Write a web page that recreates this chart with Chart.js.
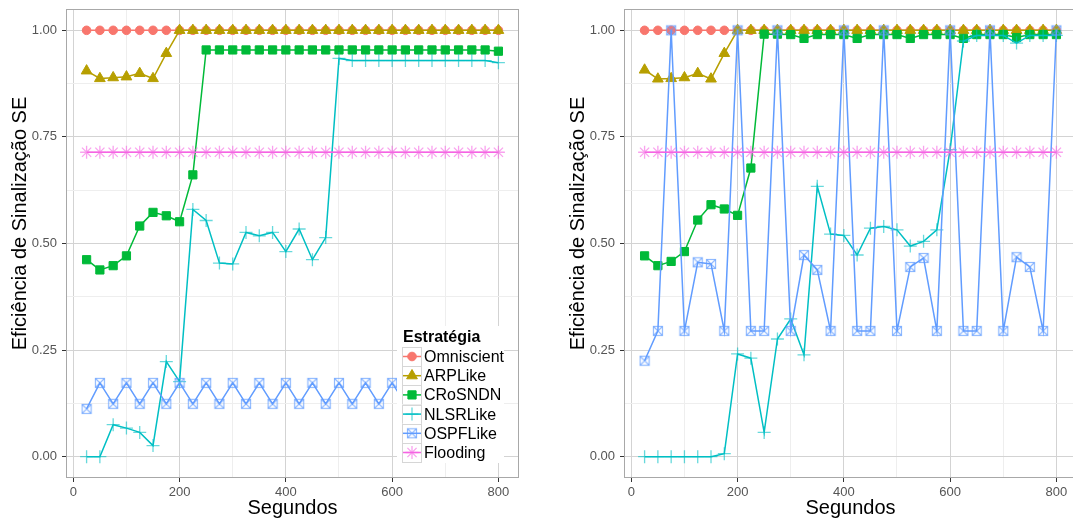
<!DOCTYPE html>
<html>
<head>
<meta charset="utf-8">
<script src="https://cdn.jsdelivr.net/npm/chart.js@4.4.0/dist/chart.umd.min.js"></script>
<style>
html, body { margin:0; padding:0; overflow:hidden; background:#fff; }
body { width:1073px; height:523px; position:relative; }
.panel { position:absolute; top:0; width:540px; height:523px; }
</style>
</head>
<body>
<div class="panel" style="left:0px"><canvas id="grafEsq" width="540" height="523"></canvas></div>
<div class="panel" style="left:558px"><canvas id="grafDir" width="540" height="523"></canvas></div>
<script>
//------------- datos -----------------//
const segundos = [25,50,75,100,125,150,175,200,225,250,275,300,325,350,375,400,
                  425,450,475,500,525,550,575,600,625,650,675,700,725,750,775,800];

const estrategias = ['Omniscient','ARPLike','CRoSNDN','NLSRLike','OSPFLike','Flooding'];

// panel izquierdo
const omniEsq  = [1,1,1,1,1,1,1,1,1,1,1,1,1,1,1,1,1,1,1,1,1,1,1,1,1,1,1,1,1,1,1,1];
const arpEsq   = [0.905,0.887,0.889,0.891,0.899,0.887,0.946,1,1,1,1,1,1,1,1,1,
                  1,1,1,1,1,1,1,1,1,1,1,1,1,1,1,1];
const crosEsq  = [0.462,0.438,0.448,0.471,0.541,0.573,0.565,0.551,0.661,0.954,0.954,0.954,0.954,0.954,0.954,0.954,
                  0.954,0.954,0.954,0.954,0.954,0.954,0.954,0.954,0.954,0.954,0.954,0.954,0.954,0.954,0.954,0.951];
const nlsrEsq  = [0,0,0.075,0.067,0.057,0.026,0.223,0.176,0.580,0.554,0.454,0.452,0.526,0.518,0.526,0.481,
                  0.534,0.462,0.514,0.934,0.929,0.929,0.929,0.929,0.929,0.929,0.929,0.929,0.929,0.929,0.929,0.924];
const ospfEsq  = [0.112,0.173,0.124,0.173,0.124,0.173,0.124,0.173,0.124,0.173,0.124,0.173,0.124,0.173,0.124,0.173,
                  0.124,0.173,0.124,0.173,0.124,0.173,0.124,0.173,0.124,0.173,0.124,0.173,0.124,0.173,0.124,0.173];
const floodEsq = [0.714,0.714,0.714,0.714,0.714,0.714,0.714,0.714,0.714,0.714,0.714,0.714,0.714,0.714,0.714,0.714,
                  0.714,0.714,0.714,0.714,0.714,0.714,0.714,0.714,0.714,0.714,0.714,0.714,0.714,0.714,0.714,0.714];

// panel derecho
const omniDir  = [1,1,1,1,1,1,1,1,1,1,1,1,1,1,1,1,1,1,1,1,1,1,1,1,1,1,1,1,1,1,1,1];
const arpDir   = [0.907,0.886,0.887,0.889,0.899,0.886,0.946,1,1,1,1,1,1,1,1,1,
                  1,1,1,1,1,1,1,1,1,1,1,1,1,1,1,1];
const crosDir  = [0.471,0.448,0.458,0.481,0.555,0.591,0.581,0.566,0.677,0.991,0.991,0.990,0.981,0.990,0.990,0.990,
                  0.981,0.990,0.990,0.990,0.981,0.990,0.990,0.990,0.981,0.990,0.990,0.990,0.983,0.990,0.990,0.990];
const nlsrDir  = [0,0,0,0,0,0,0.007,0.241,0.231,0.057,0.276,0.323,0.239,0.634,0.522,0.519,
                  0.473,0.536,0.540,0.532,0.494,0.505,0.532,0.720,0.975,0.988,0.988,0.988,0.970,0.988,0.988,0.988];
const ospfDir  = [0.225,0.295,1,0.295,0.456,0.452,0.295,1,0.295,0.295,1,0.295,0.473,0.438,0.295,1,
                  0.295,0.295,1,0.295,0.445,0.466,0.295,1,0.295,0.295,1,0.295,0.468,0.445,0.295,1];
const floodDir = [0.714,0.714,0.714,0.714,0.714,0.714,0.714,0.714,0.714,0.714,0.714,0.714,0.714,0.714,0.714,0.714,
                  0.714,0.714,0.714,0.714,0.714,0.714,0.714,0.714,0.714,0.714,0.714,0.714,0.714,0.714,0.714,0.714];

// ejes
const ticksX      = [0,100,200,300,400,500,600,700,800];
const ticksXMayor = [0,200,400,600,800];
const ticksY      = [0,0.125,0.25,0.375,0.5,0.625,0.75,0.875,1];
const ticksYMayor = [0,0.25,0.5,0.75,1];
const tituloX = 'Segundos';
const tituloY = 'Eficiência de Sinalização SE';
const tituloLeyenda = 'Estratégia';
//-------------------------------------//

const fuente = '"Liberation Sans", Arial, Helvetica, sans-serif';
const colores = ['#F8766D','#B79F00','#00BA38','#00BFC4','#619CFF','#F564E3'];

// cuadrado con X (shape 7 de ggplot)
function cajaX(color){
	var c = document.createElement('canvas');
	c.width = 12; c.height = 12;
	var g = c.getContext('2d');
	g.strokeStyle = color;
	g.lineWidth = 1.2;
	g.strokeRect(1.5,1.5,9,9);
	g.beginPath();
	g.moveTo(1.5,1.5); g.lineTo(10.5,10.5);
	g.moveTo(10.5,1.5); g.lineTo(1.5,10.5);
	g.stroke();
	return c;
}

const marcadores = [
	{estilo:'circle',   radio:4.3, borde:1,   punto:colores[0]},
	{estilo:'triangle', radio:6.2, borde:1,   punto:colores[1]},
	{estilo:'rect',     radio:5.8, borde:1,   punto:colores[2]},
	{estilo:'cross',    radio:6.5, borde:1.3, punto:'rgba(0,191,196,0.6)'},
	{estilo:cajaX('rgba(97,156,255,0.7)'), radio:5, borde:1, punto:'rgba(97,156,255,0.7)'},
	{estilo:'star',     radio:6.5, borde:1.3, punto:'rgba(245,100,227,0.6)'}
];

function serie(i, valores){
	var puntos = [];
	for (var k = 0; k < segundos.length; k++) {
		puntos.push({x: segundos[k], y: valores[k]});
	}
	var m = marcadores[i];
	return {
		label: estrategias[i],
		data: puntos,
		borderColor: colores[i],
		backgroundColor: colores[i],
		borderWidth: 1.5,
		pointStyle: m.estilo,
		pointRadius: m.radio,
		pointBorderWidth: m.borde,
		pointBorderColor: m.punto,
		pointBackgroundColor: m.punto,
		tension: 0,
		spanGaps: true,
		order: estrategias.length - 1 - i
	};
}

const decoracion = {
	id: 'decoracion',
	afterDraw(chart, args, op) {
		const g = chart.ctx;
		const a = chart.chartArea;
		g.save();
		// borde del panel
		g.strokeStyle = '#a8a8a8';
		g.lineWidth = 1;
		g.strokeRect(Math.round(a.left)+0.5, Math.round(a.top)+0.5, Math.round(a.right-a.left)-1, Math.round(a.bottom-a.top)-1);
		// titulo eje y
		g.translate(20, 223.5);
		g.rotate(-Math.PI/2);
		g.fillStyle = '#000';
		g.font = '20px ' + fuente;
		g.textAlign = 'center';
		g.textBaseline = 'middle';
		g.fillText(tituloY, 0, 0);
		g.restore();

		if (op.leyenda) dibujaLeyenda(g);
	}
};

function dibujaLeyenda(g){
	g.save();
	g.fillStyle = '#fff';
	g.fillRect(397, 326, 107, 137);
	g.fillStyle = '#000';
	g.font = 'bold 16px ' + fuente;
	g.textAlign = 'left';
	g.textBaseline = 'alphabetic';
	g.fillText(tituloLeyenda, 403, 341.5);
	for (var i = 0; i < estrategias.length; i++) {
		var cy = 356.5 + i*19.2;
		g.fillStyle = '#fff';
		g.strokeStyle = '#d6d6d6';
		g.lineWidth = 1;
		g.fillRect(402, cy-9.6, 19.5, 19.2);
		g.strokeRect(402.5, Math.round(cy-9.6)+0.5, 19, 19);
		g.strokeStyle = colores[i];
		g.lineWidth = 1.5;
		g.beginPath();
		g.moveTo(403, cy); g.lineTo(421, cy);
		g.stroke();
		var m = marcadores[i];
		g.fillStyle = m.punto;
		g.strokeStyle = m.punto;
		g.lineWidth = m.borde;
		Chart.helpers.drawPoint(g, {pointStyle: m.estilo, radius: m.radio, rotation: 0, borderWidth: m.borde}, 412, cy);
		g.fillStyle = '#000';
		g.font = '16px ' + fuente;
		g.textBaseline = 'middle';
		g.fillText(estrategias[i], 424, cy + 1);
	}
	g.restore();
}

function creargraf(nombre, series, conLeyenda){
	const ctx = document.getElementById(nombre).getContext('2d');
	var datasets = [];
	for (var i = 0; i < series.length; i++) {
		datasets.push(serie(i, series[i]));
	}
	return new Chart(ctx, {
		type: 'line',
		data: { datasets: datasets },
		plugins: [decoracion],
		options: {
			responsive: false,
			animation: false,
			events: [],
			layout: { padding: { top: 9, right: 21, left: 0, bottom: 0 } },
			plugins: {
				legend: { display: false },
				tooltip: { enabled: false },
				decoracion: { leyenda: conLeyenda }
			},
			scales: {
				x: {
					type: 'linear',
					min: -13.75,
					max: 838.75,
					afterBuildTicks: function(eje){ eje.ticks = ticksX.map(v => ({value: v})); },
					afterFit: function(eje){
						eje.height = 45;
						eje.paddingLeft = 0; eje.paddingRight = 0;
					},
					border: { display: false },
					grid: {
						lineWidth: 1,
						color: c => ticksXMayor.includes(c.tick.value) ? '#d3d3d3' : '#eeeeee',
						drawTicks: true,
						tickLength: 4,
						tickColor: c => ticksXMayor.includes(c.tick.value) ? '#333333' : 'rgba(0,0,0,0)'
					},
					ticks: {
						autoSkip: false,
						maxRotation: 0,
						padding: 3,
						color: '#555555',
						font: { family: fuente, size: 13 },
						callback: v => ticksXMayor.includes(v) ? String(v) : ''
					},
					title: {
						display: true,
						text: tituloX,
						color: '#000',
						font: { family: fuente, size: 20 },
						padding: { top: 0, bottom: 3 }
					}
				},
				y: {
					min: -0.05,
					max: 1.05,
					afterBuildTicks: function(eje){ eje.ticks = ticksY.map(v => ({value: v})); },
					afterFit: function(eje){
						eje.width = 66;
						eje.paddingTop = 0; eje.paddingBottom = 0;
					},
					border: { display: false },
					grid: {
						lineWidth: 1,
						color: c => ticksYMayor.includes(c.tick.value) ? '#d3d3d3' : '#eeeeee',
						drawTicks: true,
						tickLength: 4,
						tickColor: c => ticksYMayor.includes(c.tick.value) ? '#333333' : 'rgba(0,0,0,0)'
					},
					ticks: {
						autoSkip: false,
						padding: 5,
						color: '#555555',
						font: { family: fuente, size: 13 },
						callback: v => ticksYMayor.includes(v) ? v.toFixed(2) : ''
					}
				}
			}
		}
	});
}

creargraf('grafEsq', [omniEsq, arpEsq, crosEsq, nlsrEsq, ospfEsq, floodEsq], true);
creargraf('grafDir', [omniDir, arpDir, crosDir, nlsrDir, ospfDir, floodDir], false);
</script>
</body>
</html>
